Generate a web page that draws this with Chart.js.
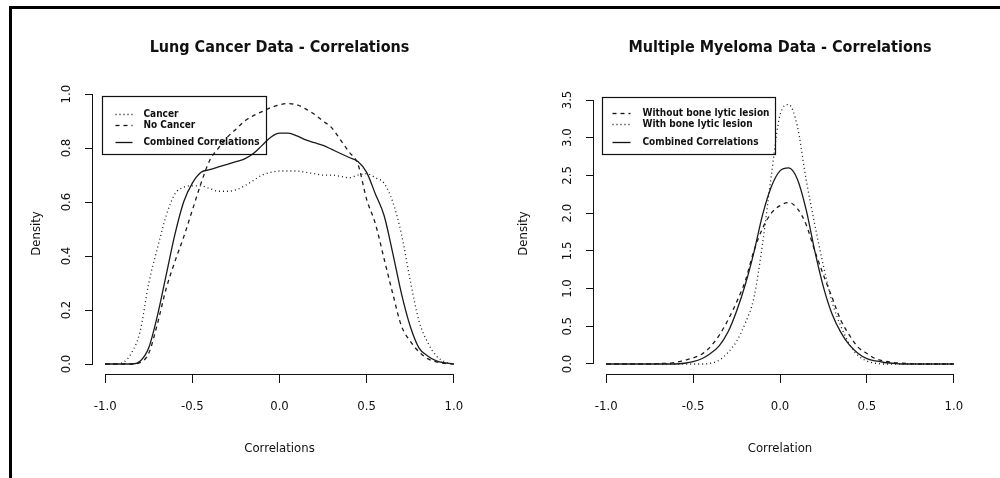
<!DOCTYPE html>
<html>
<head>
<meta charset="utf-8">
<script src="https://cdn.jsdelivr.net/npm/chart.js@4"></script>
<style>
  html, body { margin: 0; padding: 0; background: #fff; }
  #page { position: relative; width: 1000px; height: 478px; overflow: hidden; }
  #frame { position: absolute; left: 9px; top: 6px; width: 1000px; height: 480px;
           border-left: 3px solid #000; border-top: 3px solid #000; }
  canvas { position: absolute; top: 0; }
  #lung { left: 0; }
  #myeloma { left: 501px; }
</style>
</head>
<body>
<div id="page">
  <div id="frame"></div>
  <canvas id="lung" width="500" height="478"></canvas>
  <canvas id="myeloma" width="499" height="478"></canvas>
</div>
<script>
const FONT = "'Liberation Sans Narrow', 'DejaVu Sans Condensed', 'Liberation Sans', sans-serif";

// correlation grid (x values of the density estimates)
const corr = [-1.0, -0.95, -0.9, -0.85, -0.8, -0.75, -0.7, -0.65, -0.6, -0.55, -0.5,
  -0.45, -0.4, -0.35, -0.3, -0.25, -0.2, -0.15, -0.1, -0.05, 0.0,
  0.05, 0.1, 0.15, 0.2, 0.25, 0.3, 0.35, 0.4, 0.45, 0.5,
  0.55, 0.6, 0.65, 0.7, 0.75, 0.8, 0.85, 0.9, 0.95, 1.0];

// Lung cancer densities
const lungCancer = [0, 0, 0.005, 0.04, 0.12, 0.30, 0.43, 0.55, 0.63, 0.655, 0.66,
  0.66, 0.65, 0.64, 0.64, 0.645, 0.66, 0.68, 0.70, 0.71, 0.715,
  0.715, 0.715, 0.71, 0.705, 0.70, 0.70, 0.695, 0.69, 0.70, 0.705,
  0.69, 0.67, 0.60, 0.48, 0.31, 0.16, 0.08, 0.03, 0.008, 0];
const lungNoCancer = [0, 0, 0, 0, 0.005, 0.04, 0.15, 0.28, 0.38, 0.47, 0.57,
  0.67, 0.755, 0.80, 0.84, 0.87, 0.90, 0.92, 0.935, 0.95, 0.96,
  0.965, 0.96, 0.945, 0.925, 0.90, 0.875, 0.83, 0.785, 0.74, 0.61,
  0.52, 0.39, 0.26, 0.14, 0.085, 0.045, 0.02, 0.008, 0.002, 0];
const lungCombined = [0, 0, 0, 0, 0.01, 0.06, 0.18, 0.33, 0.48, 0.60, 0.67,
  0.71, 0.72, 0.73, 0.74, 0.75, 0.76, 0.78, 0.81, 0.84, 0.855,
  0.855, 0.845, 0.83, 0.82, 0.81, 0.795, 0.78, 0.765, 0.75, 0.71,
  0.63, 0.55, 0.41, 0.26, 0.14, 0.06, 0.03, 0.012, 0.004, 0];

// Multiple myeloma densities
const myelomaWithout = [0, 0, 0, 0, 0, 0, 0.005, 0.01, 0.02, 0.05, 0.08,
  0.13, 0.23, 0.38, 0.58, 0.82, 1.10, 1.50, 1.80, 2.00, 2.10,
  2.14, 2.06, 1.85, 1.50, 1.18, 0.88, 0.58, 0.38, 0.22, 0.14,
  0.07, 0.04, 0.02, 0.01, 0.005, 0, 0, 0, 0, 0];
const myelomaWith = [0, 0, 0, 0, 0, 0, 0, 0, 0, 0, 0,
  0, 0.01, 0.05, 0.15, 0.30, 0.54, 0.88, 1.60, 2.50, 3.30,
  3.44, 3.15, 2.45, 1.85, 1.30, 0.82, 0.50, 0.26, 0.11, 0.04,
  0.01, 0, 0, 0, 0, 0, 0, 0, 0, 0];
const myelomaCombined = [0, 0, 0, 0, 0, 0, 0, 0, 0, 0.01, 0.03,
  0.07, 0.14, 0.24, 0.42, 0.70, 1.05, 1.48, 1.98, 2.35, 2.56,
  2.60, 2.45, 2.05, 1.50, 1.02, 0.66, 0.42, 0.25, 0.14, 0.07,
  0.04, 0.02, 0.01, 0, 0, 0, 0, 0, 0, 0];

// tick labels
const xTicks = [-1.0, -0.5, 0.0, 0.5, 1.0];
const lungTicksY = [0.0, 0.2, 0.4, 0.6, 0.8, 1.0];
const myelomaTicksY = [0.0, 0.5, 1.0, 1.5, 2.0, 2.5, 3.0, 3.5];

const DOTTED = [1, 3];
const DASHED = [4, 4];

function pts(ys) {
  return corr.map((x, i) => ({ x: x, y: ys[i] }));
}

function line(label, ys, dash) {
  return {
    label: label,
    data: pts(ys),
    borderColor: '#1a1a1a',
    borderWidth: 1.3,
    borderDash: dash,
    pointRadius: 0,
    cubicInterpolationMode: 'monotone',
    fill: false
  };
}

// R-style axes, rotated y labels, boxed legend
const rStyle = {
  id: 'rStyle',
  afterDraw(chart, args, opts) {
    const ctx = chart.ctx;
    const area = chart.chartArea;
    const xs = chart.scales.x, ys = chart.scales.y;
    ctx.save();
    ctx.strokeStyle = '#111';
    ctx.lineWidth = 1;
    ctx.setLineDash([]);

    const xb = Math.round(area.bottom) + 0.5;
    ctx.beginPath();
    ctx.moveTo(xs.getPixelForValue(xTicks[0]), xb);
    ctx.lineTo(xs.getPixelForValue(xTicks[xTicks.length - 1]), xb);
    ctx.stroke();

    const yl = Math.round(area.left) - 0.5;
    ctx.beginPath();
    ctx.moveTo(yl, ys.getPixelForValue(opts.yTicks[0]));
    ctx.lineTo(yl, ys.getPixelForValue(opts.yTicks[opts.yTicks.length - 1]));
    ctx.stroke();

    ctx.fillStyle = '#111';
    ctx.font = '13px ' + FONT;
    ctx.textAlign = 'center';
    ctx.textBaseline = 'middle';
    opts.yTicks.forEach(v => {
      ctx.save();
      ctx.translate(opts.labelX, ys.getPixelForValue(v));
      ctx.rotate(-Math.PI / 2);
      ctx.fillText(v.toFixed(1), 0, 0);
      ctx.restore();
    });

    const L = opts.legend;
    const bx = Math.round(area.left + L.dx) + 0.5;
    const by = Math.round(area.top + L.dy) + 0.5;
    ctx.lineWidth = 1.2;
    ctx.strokeRect(bx, by, L.w, L.h);
    ctx.font = 'bold 10px ' + FONT;
    ctx.textAlign = 'left';
    ctx.fillStyle = '#111';
    L.order.forEach((di, k) => {
      const ds = chart.data.datasets[di];
      const yy = by + L.rows[k];
      ctx.beginPath();
      ctx.lineWidth = 1.3;
      ctx.setLineDash(ds.borderDash || []);
      ctx.moveTo(bx + L.x0, yy);
      ctx.lineTo(bx + L.x1, yy);
      ctx.stroke();
      ctx.setLineDash([]);
      ctx.fillText(ds.label, bx + L.tx, yy);
    });
    ctx.restore();
  }
};

function makeConfig(title, xTitle, datasets, yMin, yMax, yTicks, yTitlePad, legend) {
  return {
    type: 'line',
    data: { datasets: datasets },
    plugins: [rStyle],
    options: {
      responsive: false,
      animation: false,
      layout: { padding: { left: 0, right: 34, top: 0, bottom: 0 } },
      plugins: {
        legend: { display: false },
        tooltip: { enabled: false },
        title: {
          display: true,
          text: title,
          fullSize: false,
          color: '#111',
          font: { family: FONT, size: 16, weight: 'bold', lineHeight: 1.2 },
          padding: { top: 38, bottom: 35.8 }
        },
        rStyle: { yTicks: yTicks, labelX: 67, legend: legend }
      },
      scales: {
        x: {
          type: 'linear',
          min: -1.07,
          max: 1.07,
          afterBuildTicks: s => { s.ticks = xTicks.map(v => ({ value: v })); },
          afterFit: s => { s.height = 104; },
          border: { display: false },
          grid: { display: true, drawOnChartArea: false, drawTicks: true, tickLength: 9, color: '#111' },
          ticks: {
            color: '#111',
            font: { family: FONT, size: 13 },
            padding: 16,
            maxRotation: 0,
            callback: v => v.toFixed(1)
          },
          title: {
            display: true,
            text: xTitle,
            color: '#111',
            font: { family: FONT, size: 13 },
            padding: { top: 0, bottom: 22 }
          }
        },
        y: {
          type: 'linear',
          min: yMin,
          max: yMax,
          afterBuildTicks: s => { s.ticks = yTicks.map(v => ({ value: v })); },
          afterFit: s => { s.width = 93; },
          border: { display: false },
          grid: { display: true, drawOnChartArea: false, drawTicks: true, tickLength: 8, color: '#111' },
          ticks: { display: false },
          title: {
            display: true,
            text: 'Density',
            color: '#111',
            font: { family: FONT, size: 13 },
            padding: { top: yTitlePad, bottom: 0 }
          }
        }
      }
    }
  };
}

const lungChart = new Chart(document.getElementById('lung'), makeConfig(
  'Lung Cancer Data - Correlations',
  'Correlations',
  [
    line('Cancer', lungCancer, DOTTED),
    line('No Cancer', lungNoCancer, DASHED),
    line('Combined Correlations', lungCombined, [])
  ],
  -0.037, 1.004, lungTicksY, 29,
  { dx: 9, dy: 3, w: 164, h: 58, rows: [18, 29, 46], x0: 13, x1: 30, tx: 41, order: [0, 1, 2] }
));

const myelomaChart = new Chart(document.getElementById('myeloma'), makeConfig(
  'Multiple Myeloma Data - Correlations',
  'Correlation',
  [
    line('Without bone lytic lesion', myelomaWithout, DASHED),
    line('With bone lytic lesion', myelomaWith, DOTTED),
    line('Combined Correlations', myelomaCombined, [])
  ],
  -0.1326, 3.593, myelomaTicksY, 15,
  { dx: 8, dy: 4, w: 173, h: 57, rows: [16, 27, 45], x0: 10, x1: 28, tx: 40, order: [0, 1, 2] }
));
</script>
</body>
</html>
